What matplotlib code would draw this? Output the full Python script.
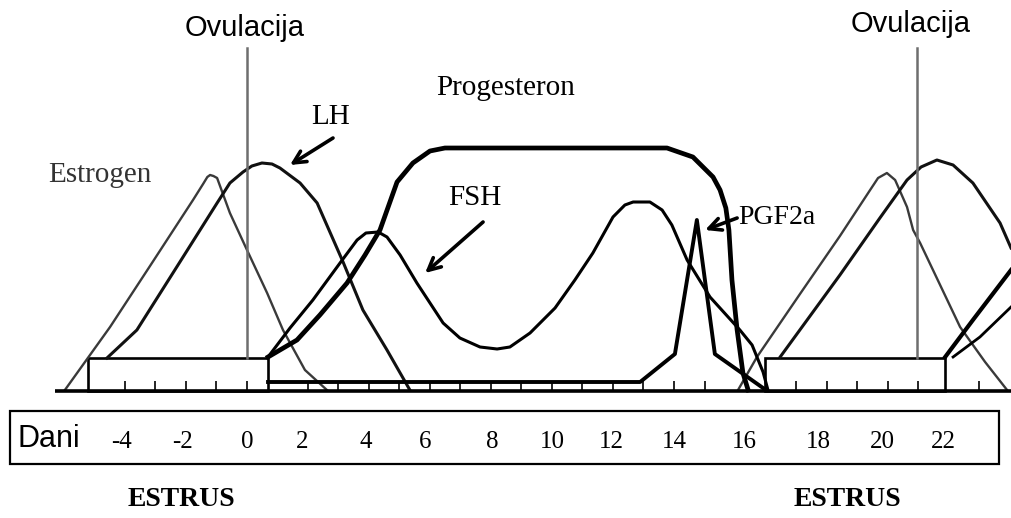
import matplotlib.pyplot as plt
from matplotlib.patches import Rectangle

# x = day of the cycle, y = relative hormone level (0 = baseline)
estrogen1_days = [-5.97, -4.49, -3.18, -1.77, -1.44, -1.30, -1.21, -1.10, -0.98, -0.56, 0.0, 0.66, 1.18, 1.90, 2.62]
estrogen1_lvl = [1, 64, 125, 191, 207, 214, 216, 215, 213, 178, 141, 98, 61, 21, 1]

lh1_days = [-4.59, -3.61, -2.20, -0.98, -0.56, -0.13, 0.16, 0.49, 0.82, 1.08, 1.74, 2.30, 3.15, 3.80, 4.59, 5.34]
lh1_lvl = [33, 61, 129, 188, 208, 219, 225, 228, 227, 223, 208, 188, 129, 81, 41, 1]

prog1_days = [0.69, 1.64, 2.39, 3.28, 3.87, 4.36, 4.92, 5.44, 6.00, 6.49, 8.30, 11.57, 13.77,
              14.62, 15.28, 15.51, 15.70, 15.80, 15.90, 16.07, 16.26, 16.43]
prog1_lvl = [34, 51, 76, 108, 136, 161, 209, 228, 240, 243, 243, 243, 243,
             234, 214, 201, 183, 161, 111, 61, 18, 1]

fsh1_days = [0.69, 1.41, 2.16, 3.05, 3.61, 3.90, 4.30, 4.59, 5.02, 5.57, 6.43, 6.98, 7.64, 8.20, 8.62,
             8.95, 9.28, 10.10, 10.75, 11.34, 12.00, 12.39, 12.66, 13.21, 13.61, 13.93, 14.43, 15.18,
             16.16, 16.56, 16.92, 17.08]
fsh1_lvl = [34, 63, 91, 128, 151, 158, 159, 154, 136, 108, 68, 53, 44, 42, 44,
            51, 58, 83, 111, 138, 174, 186, 189, 189, 181, 166, 131, 94,
            61, 46, 19, 1]

pgf_days = [0.69, 12.89, 14.03, 14.75, 15.34, 16.92]
pgf_lvl = [9, 9, 37, 171, 37, 3]

estrogen2_days = [16.10, 16.72, 18.13, 19.44, 20.43, 20.69, 20.98, 21.25, 21.64, 21.84, 22.07, 23.38, 24.20, 24.92]
estrogen2_lvl = [1, 34, 97, 155, 201, 213, 218, 211, 184, 161, 148, 64, 29, 1]

lh2_days = [17.48, 19.44, 20.75, 21.64, 22.10, 22.62, 23.15, 23.80, 24.69, 25.05]
lh2_lvl = [34, 116, 173, 211, 224, 231, 226, 208, 168, 143]

prog2_days = [22.89, 23.80, 25.05]
prog2_lvl = [34, 71, 121]

fsh2_days = [23.15, 24.03, 25.05]
fsh2_lvl = [34, 54, 84]

estrus_start = [-5.21, 16.98]
estrus_end = [0.69, 22.89]
estrus_lvl = 33
ovulation_days = [0.0, 21.97]

tick_days = [-4, -3, -2, -1, 0, 2, 3, 4, 5, 6, 7, 8, 9, 10, 11, 12, 13, 14, 15, 18, 19, 20, 21, 22, 24]
day_labels = ['-4', '-2', '0', '2', '4', '6', '8', '10', '12', '14', '16', '18', '20', '22']
label_pos = [-4.13, -2.13, 0.0, 1.80, 3.90, 5.84, 8.03, 10.0, 11.93, 14.0, 16.30, 18.72, 20.82, 22.82]

SANS = ['Liberation Sans Narrow', 'Liberation Sans', 'DejaVu Sans']
SERIF = ['Liberation Serif', 'DejaVu Serif']

fig = plt.figure(figsize=(10.11, 5.18), dpi=100)
ax = fig.add_axes([0, 0, 1, 1])
ax.set_xlim(-8.098, 25.049)
ax.set_ylim(-127, 391)
ax.axis('off')

# hormone curves
ax.plot(estrogen1_days, estrogen1_lvl, color='#3a3a3a', lw=1.7, solid_joinstyle='round')
ax.plot(estrogen2_days, estrogen2_lvl, color='#3a3a3a', lw=1.7, solid_joinstyle='round')
ax.plot(lh1_days, lh1_lvl, color='#111111', lw=2.2, solid_joinstyle='round')
ax.plot(lh2_days, lh2_lvl, color='#111111', lw=2.2, solid_joinstyle='round')
ax.plot(fsh1_days, fsh1_lvl, color='black', lw=2.2, solid_joinstyle='round')
ax.plot(fsh2_days, fsh2_lvl, color='black', lw=2.0, solid_joinstyle='round')
ax.plot(prog1_days, prog1_lvl, color='black', lw=3.4, solid_joinstyle='round')
ax.plot(prog2_days, prog2_lvl, color='black', lw=3.0, solid_joinstyle='round')
ax.plot(pgf_days, pgf_lvl, color='black', lw=2.8, solid_joinstyle='round')

# estrus boxes, baseline and day ticks
for s, e in zip(estrus_start, estrus_end):
    ax.add_patch(Rectangle((s, 0), e - s, estrus_lvl, fill=False, lw=1.9, ec='black'))
ax.plot([-6.30, 25.05], [0, 0], color='black', lw=2.6, solid_capstyle='butt')
ax.vlines(tick_days, 0, 10, color='black', lw=1.2)

# ovulation markers
for d in ovulation_days:
    ax.plot([d, d], [estrus_lvl, 343], color='#6e6e6e', lw=1.8)
ax.text(-0.07, 363, 'Ovulacija', family=SANS, fontsize=21, ha='center', va='center')
ax.text(21.77, 367, 'Ovulacija', family=SANS, fontsize=21, ha='center', va='center')

# hormone names and arrows
ax.text(-6.52, 216, 'Estrogen', family=SERIF, fontsize=21, ha='left', va='center', color='#333333')
ax.text(2.75, 274, 'LH', family=SERIF, fontsize=21, ha='center', va='center')
ax.text(8.49, 303, 'Progesteron', family=SERIF, fontsize=21, ha='center', va='center')
ax.text(7.48, 193, 'FSH', family=SERIF, fontsize=21, ha='center', va='center')
ax.text(16.10, 174, 'PGF2a', family=SERIF, fontsize=20, ha='left', va='center')

arrow = dict(arrowstyle='->', lw=2.6, color='black', mutation_scale=22, shrinkA=0, shrinkB=0)
ax.annotate('', xy=(1.41, 226), xytext=(2.82, 253), arrowprops=arrow)
ax.annotate('', xy=(5.84, 118), xytext=(7.74, 169), arrowprops=arrow)
ax.annotate('', xy=(15.02, 161), xytext=(16.07, 173), arrowprops=arrow)

# day scale frame
ax.add_patch(Rectangle((-7.77, -73), 32.43, 53, fill=False, lw=1.6, ec='black', clip_on=False))
ax.text(-7.54, -48, 'Dani', family=SANS, fontsize=22, ha='left', va='center')
for lab, p in zip(day_labels, label_pos):
    ax.text(p, -51, lab, family=SERIF, fontsize=18, ha='center', va='center')

ax.text(-2.16, -109, 'ESTRUS', family=SERIF, fontsize=20, fontweight='bold', ha='center', va='center')
ax.text(19.67, -109, 'ESTRUS', family=SERIF, fontsize=20, fontweight='bold', ha='center', va='center')

plt.savefig('out.png', dpi=100)
